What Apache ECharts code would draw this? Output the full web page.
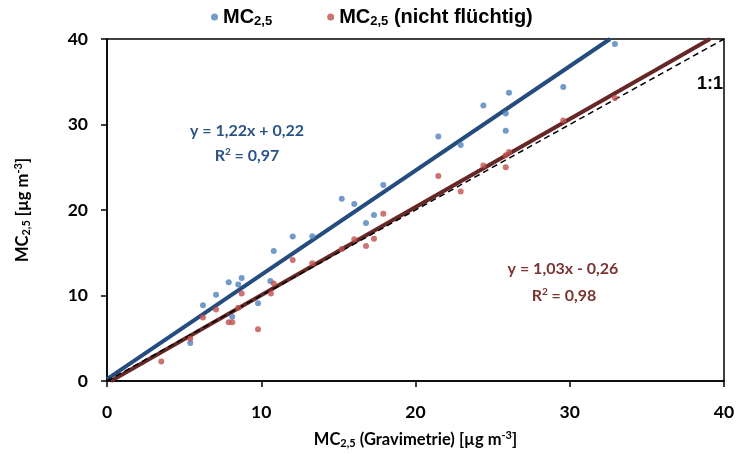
<!DOCTYPE html>
<html><head><meta charset="utf-8">
<script src="https://cdn.jsdelivr.net/npm/echarts@6/dist/echarts.min.js"></script>
<style>html,body{margin:0;padding:0;background:#fff}#c{width:743px;height:454px}</style>
</head><body><div id="c"></div>
<script>
// ---- data ----
const axisMin = 0, axisMax = 40, axisStep = 10;
const gravX = [5.40, 6.22, 7.07, 7.89, 8.12, 8.51, 8.73, 9.79, 10.59, 10.81, 12.04, 13.31, 15.22, 16.03, 16.79, 17.31, 17.91, 21.48, 22.93, 24.40, 25.85, 25.85, 26.06, 29.58, 32.93];
const mcY    = [4.45, 8.87, 10.08, 11.55, 7.52, 11.28, 12.06, 9.10, 11.71, 15.20, 16.90, 16.94, 21.31, 20.70, 18.49, 19.42, 22.91, 28.60, 27.59, 32.21, 31.28, 29.27, 33.72, 34.38, 39.42];
const gravXnf = [3.52, 5.40, 6.22, 7.07, 7.89, 8.12, 8.51, 8.73, 9.79, 10.63, 10.81, 12.04, 13.31, 15.22, 16.03, 16.79, 17.31, 17.91, 21.48, 22.93, 24.40, 25.85, 25.85, 26.06, 29.58, 32.93];
const mcYnf    = [2.29, 4.97, 7.44, 8.37, 6.86, 6.86, 8.57, 10.23, 6.05, 10.23, 11.40, 14.15, 13.76, 15.43, 16.59, 15.78, 16.63, 19.57, 23.99, 22.17, 25.20, 25.00, 26.40, 26.78, 30.47, 33.10];
const trendBlue  = [[0, 0.22], [32.61, 40]];   // y = 1,22x + 0,22
const trendBrown = [[0.25, 0], [39.09, 40]];   // y = 1,03x - 0,26
const oneToOne   = [[0, 0], [40, 40]];
const legendNames = ['MC2,5', 'MC2,5 (nicht flüchtig)'];

const zip = (a, b) => a.map((v, i) => [v, b[i]]);
const F = 'Lato, "Open Sans", sans-serif';
const chart = echarts.init(document.getElementById('c'), null, {renderer: 'canvas'});
const tickLabel = {fontFamily: F, fontWeight: 'bold', fontSize: 17.5, color: '#000'};
const nameStyle = {
  fontFamily: F, fontWeight: 'bold', fontSize: 16.5, color: '#000',
  rich: {
    n: {fontFamily: F, fontWeight: 'bold', fontSize: 16.5, color: '#000'},
    s: {fontFamily: F, fontWeight: 'bold', fontSize: 11, color: '#000', padding: [7, 0, 0, 0]},
    p: {fontFamily: F, fontWeight: 'bold', fontSize: 11, color: '#000', padding: [0, 0, 9, 0]}
  }
};
const axisCommon = {
  type: 'value', min: axisMin, max: axisMax, interval: axisStep,
  axisLine: {show: true, onZero: false, lineStyle: {color: '#000', width: 1.5}},
  axisTick: {show: true, inside: false, length: 6, lineStyle: {color: '#000', width: 1.5}},
  splitLine: {show: false},
  axisLabel: tickLabel,
  nameLocation: 'middle',
  nameTextStyle: nameStyle
};
const LF = '"Liberation Sans", Arial, sans-serif';
chart.setOption({
  animation: false,
  backgroundColor: '#fff',
  grid: {left: 107, right: 19, top: 39, bottom: 71, show: true, borderColor: '#000', borderWidth: 1.5, containLabel: false},
  legend: {
    top: 2, left: 206, itemGap: 55, itemWidth: 7, itemHeight: 7, icon: 'circle',
    data: legendNames,
    formatter: n => n === legendNames[0] ? '{n|MC}{s|2,5}' : '{n|MC}{s|2,5}{n| (nicht flüchtig)}',
    textStyle: {
      fontFamily: LF, fontWeight: 'bold', fontSize: 20, color: '#000',
      rich: {
        n: {fontFamily: LF, fontWeight: 'bold', fontSize: 20, color: '#000'},
        s: {fontFamily: LF, fontWeight: 'bold', fontSize: 13, color: '#000', padding: [9, 0, 0, 0]}
      }
    }
  },
  xAxis: Object.assign({}, axisCommon, {
    name: '{n|MC}{s|2,5}{n| (Gravimetrie) [µg m}{p|-3}{n|]}', nameGap: 49,
    axisLabel: Object.assign({}, tickLabel, {margin: 22})
  }),
  yAxis: Object.assign({}, axisCommon, {
    name: '{n|MC}{s|2,5}{n| [µg m}{p|-3}{n|]}', nameGap: 74,
    axisLabel: Object.assign({}, tickLabel, {margin: 19})
  }),
  series: [
    {name: 'trendBlue', type: 'line', data: trendBlue, symbol: 'none', lineStyle: {color: '#244C7E', width: 4}, z: 2, silent: true},
    {name: 'trendBrown', type: 'line', data: trendBrown, symbol: 'none', lineStyle: {color: '#662826', width: 4}, z: 2, silent: true},
    {name: '1:1', type: 'line', data: oneToOne, symbol: 'none', lineStyle: {color: '#000', width: 1.5, type: [6, 4]}, z: 3, silent: true},
    {name: legendNames[0], type: 'scatter', data: zip(gravX, mcY), symbol: 'circle', symbolSize: 6, itemStyle: {color: '#4F81BD'}, z: 4},
    {name: legendNames[1], type: 'scatter', data: zip(gravXnf, mcYnf), symbol: 'circle', symbolSize: 6, itemStyle: {color: '#C0504D'}, z: 4}
  ],
  graphic: [
    {type: 'text', x: 247, y: 131, style: {text: 'y = 1,22x + 0,22', font: 'bold 16px ' + F, fill: '#2B5486', align: 'center', verticalAlign: 'middle'}},
    {type: 'text', x: 247, y: 156, style: {text: '{n|R}{p|2}{n| = 0,97}', font: 'bold 16px ' + F, fill: '#2B5486', align: 'center', verticalAlign: 'middle',
      rich: {n: {font: 'bold 16px ' + F, fill: '#2B5486'}, p: {font: 'bold 10px ' + F, fill: '#2B5486', padding: [0, 0, 8, 0]}}}},
    {type: 'text', x: 563, y: 269, style: {text: 'y = 1,03x - 0,26', font: 'bold 16px ' + F, fill: '#7B3431', align: 'center', verticalAlign: 'middle'}},
    {type: 'text', x: 564, y: 296, style: {text: '{n|R}{p|2}{n| = 0,98}', font: 'bold 16px ' + F, fill: '#7B3431', align: 'center', verticalAlign: 'middle',
      rich: {n: {font: 'bold 16px ' + F, fill: '#7B3431'}, p: {font: 'bold 10px ' + F, fill: '#7B3431', padding: [0, 0, 8, 0]}}}},
    {type: 'text', x: 710, y: 84, style: {text: '1:1', font: 'bold 18px ' + LF, fill: '#000', align: 'center', verticalAlign: 'middle'}}
  ]
});
</script></body></html>
